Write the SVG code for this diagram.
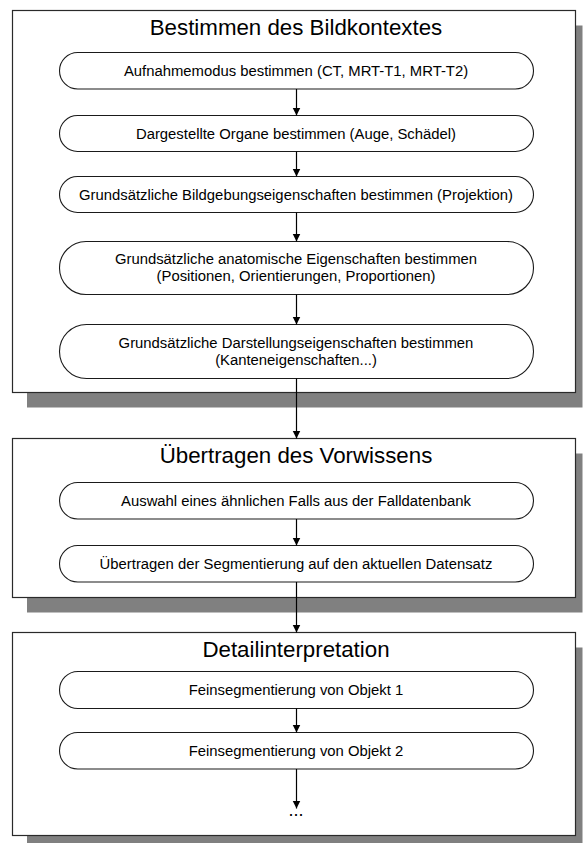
<svg xmlns="http://www.w3.org/2000/svg" width="584" height="843" viewBox="0 0 584 843">
  <style>
    .shadow { fill: #808080; }
    .box { fill: #ffffff; stroke: #2a2a2a; stroke-width: 1.2; }
    .title { font-family: "Liberation Sans", Arial, sans-serif; font-size: 22.3px; fill: #000; text-anchor: middle; }
    .pill { fill: #ffffff; stroke: #1a1a1a; stroke-width: 1.1; }
    .label { font-family: "Liberation Sans", Arial, sans-serif; font-size: 14.85px; fill: #000; text-anchor: middle; }
    .edge { fill: none; stroke: #000; stroke-width: 1.2; marker-end: url(#arrow); }
    .more { font-family: "Liberation Sans", Arial, sans-serif; font-size: 18px; fill: #000; text-anchor: middle; }
  </style>
  <defs>
    <marker id="arrow" viewBox="0 0 10 10" refX="10" refY="5" markerWidth="8" markerHeight="10" markerUnits="userSpaceOnUse" orient="auto">
      <path d="M0,0 L10,5 L0,10 z" fill="#000"/>
    </marker>
  </defs>

  <rect width="584" height="843" fill="#ffffff"/>

  <!-- Phase 1 -->
  <g id="phase-bildkontext">
    <rect class="shadow" x="27" y="25.5" width="555.5" height="382"/>
    <rect class="box" x="12.5" y="10.5" width="563" height="382"/>
    <text class="title" x="296" y="35">Bestimmen des Bildkontextes</text>
  </g>
  <g id="step-aufnahmemodus">
    <rect class="pill" x="59.5" y="52.5" width="474" height="36.5" rx="18.25" ry="18.25"/>
    <text class="label" x="296" y="76">Aufnahmemodus bestimmen (CT, MRT-T1, MRT-T2)</text>
  </g>
  <g id="step-organe">
    <rect class="pill" x="59.5" y="115.5" width="474" height="36" rx="18" ry="18"/>
    <text class="label" x="296" y="138.8">Dargestellte Organe bestimmen (Auge, Schädel)</text>
  </g>
  <g id="step-bildgebung">
    <rect class="pill" x="59.5" y="176.5" width="474" height="36" rx="18" ry="18"/>
    <text class="label" x="296" y="199.8">Grundsätzliche Bildgebungseigenschaften bestimmen (Projektion)</text>
  </g>
  <g id="step-anatomie">
    <rect class="pill" x="59.5" y="241.5" width="474" height="53" rx="26.5" ry="26.5"/>
    <text class="label" x="296" y="264">Grundsätzliche anatomische Eigenschaften bestimmen</text>
    <text class="label" x="296" y="281">(Positionen, Orientierungen, Proportionen)</text>
  </g>
  <g id="step-darstellung">
    <rect class="pill" x="59.5" y="324.5" width="474" height="54" rx="27" ry="27"/>
    <text class="label" x="296" y="347.5">Grundsätzliche Darstellungseigenschaften bestimmen</text>
    <text class="label" x="296" y="364.5">(Kanteneigenschaften...)</text>
  </g>

  <!-- Phase 2 -->
  <g id="phase-vorwissen">
    <rect class="shadow" x="27" y="453.5" width="555.5" height="159"/>
    <rect class="box" x="12.5" y="438.5" width="563" height="159"/>
    <text class="title" x="296" y="462.5">Übertragen des Vorwissens</text>
  </g>
  <g id="step-auswahl">
    <rect class="pill" x="59.5" y="482.5" width="474" height="36.5" rx="18.25" ry="18.25"/>
    <text class="label" x="296" y="506">Auswahl eines ähnlichen Falls aus der Falldatenbank</text>
  </g>
  <g id="step-segmentierung">
    <rect class="pill" x="59.5" y="545.5" width="474" height="36.5" rx="18.25" ry="18.25"/>
    <text class="label" x="296" y="569">Übertragen der Segmentierung auf den aktuellen Datensatz</text>
  </g>

  <!-- Phase 3 -->
  <g id="phase-detail">
    <rect class="shadow" x="27" y="647.5" width="555.5" height="203"/>
    <rect class="box" x="12.5" y="632.5" width="563" height="203"/>
    <text class="title" x="296" y="656.5">Detailinterpretation</text>
  </g>
  <g id="step-objekt1">
    <rect class="pill" x="59.5" y="671.5" width="474" height="37" rx="18.5" ry="18.5"/>
    <text class="label" x="296" y="695.3">Feinsegmentierung von Objekt 1</text>
  </g>
  <g id="step-objekt2">
    <rect class="pill" x="59.5" y="732.5" width="474" height="36.5" rx="18.25" ry="18.25"/>
    <text class="label" x="296" y="756">Feinsegmentierung von Objekt 2</text>
  </g>
  <g id="step-weitere">
    <text class="more" x="296" y="816">...</text>
  </g>

  <!-- Connectors -->
  <g id="connectors">
    <line class="edge" x1="296.5" y1="89" x2="296.5" y2="115.5"/>
    <line class="edge" x1="296.5" y1="151.5" x2="296.5" y2="176.5"/>
    <line class="edge" x1="296.5" y1="212.5" x2="296.5" y2="241.5"/>
    <line class="edge" x1="296.5" y1="294.5" x2="296.5" y2="324.5"/>
    <line class="edge" x1="296.5" y1="378.5" x2="296.5" y2="438.5"/>
    <line class="edge" x1="296.5" y1="519" x2="296.5" y2="545.5"/>
    <line class="edge" x1="296.5" y1="582" x2="296.5" y2="632.5"/>
    <line class="edge" x1="296.5" y1="708.5" x2="296.5" y2="732.5"/>
    <line class="edge" x1="296.5" y1="769" x2="296.5" y2="808.5"/>
  </g>
</svg>
